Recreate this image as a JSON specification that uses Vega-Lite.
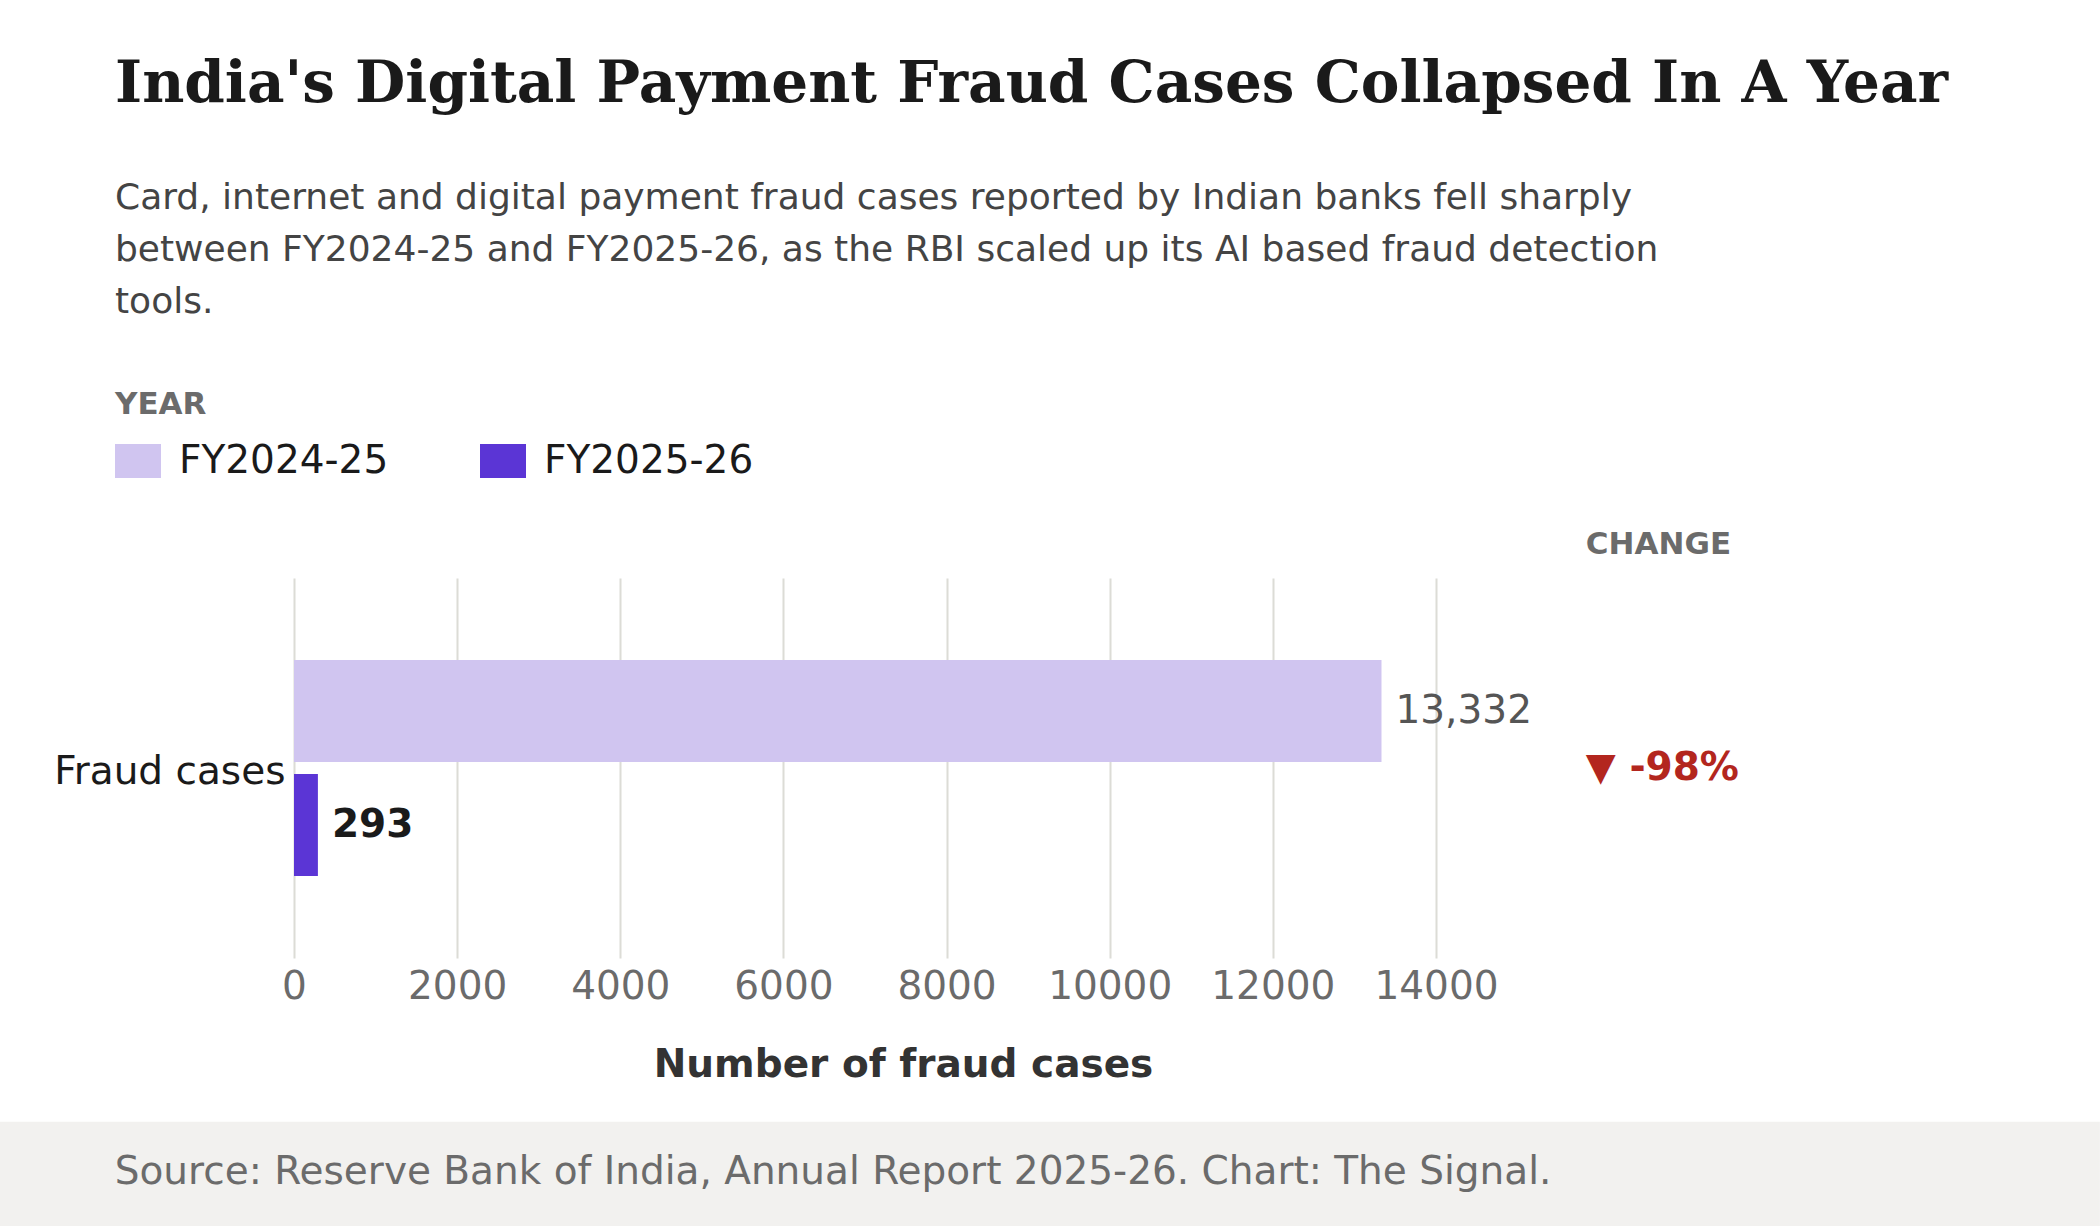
{
  "$schema": "https://vega.github.io/schema/vega-lite/v6.json",
  "width": 1218,
  "height": 380,
  "autosize": {"type": "none"},
  "padding": {"left": 294, "top": 578, "right": 588, "bottom": 268},
  "background": "white",
  "config": {"font": "DejaVu Sans", "view": {"stroke": null}},
  "title": {
    "text": "India's Digital Payment Fraud Cases Collapsed In A Year",
    "subtitle": [
      "Card, internet and digital payment fraud cases reported by Indian banks fell sharply",
      "between FY2024-25 and FY2025-26, as the RBI scaled up its AI based fraud detection",
      "tools."
    ],
    "anchor": "start",
    "frame": "group",
    "dx": -179,
    "offset": 70,
    "font": "DejaVu Serif",
    "fontSize": 58,
    "fontWeight": "bold",
    "color": "#1a1a1a",
    "subtitleFont": "DejaVu Sans",
    "subtitleFontSize": 36,
    "subtitleColor": "#444444",
    "subtitleLineHeight": 52,
    "subtitlePadding": 67
  },
  "layer": [
    {
      "layer": [
        {
          "data": {"name": "cases"},
          "mark": {"type": "bar"},
          "encoding": {
            "y": {"field": "metric", "type": "nominal", "title": null,
              "scale": {"paddingInner": 0, "paddingOuter": 0.3796},
              "axis": {"domain": false, "ticks": false, "labelPadding": 9, "labelFontSize": 39, "labelColor": "#1a1a1a", "labelLimit": 600, "labelOffset": 4}},
            "yOffset": {"field": "year", "type": "nominal",
              "scale": {"domain": ["FY2024-25", "FY2025-26"], "paddingInner": 0.105, "paddingOuter": 0}},
            "x": {"field": "cases", "type": "quantitative", "title": "Number of fraud cases",
              "scale": {"domain": [0, 14932], "nice": false},
              "axis": {
                "values": [0, 2000, 4000, 6000, 8000, 10000, 12000, 14000],
                "format": "d",
                "grid": true, "gridColor": "#dcdcd6", "gridWidth": 2,
                "domain": false, "ticks": false, "tickSize": 0,
                "labelPadding": 9, "labelFontSize": 39, "labelColor": "#6b6b6b",
                "labelFlush": false, "labelOverlap": false,
                "titleFontSize": 39, "titleFontWeight": "bold", "titleColor": "#333333", "titlePadding": 39
              }},
            "color": {"field": "year", "type": "nominal",
              "scale": {"domain": ["FY2024-25", "FY2025-26"], "range": ["#d0c5f0", "#5b35d5"]},
              "legend": {
                "title": "YEAR", "orient": "none", "legendX": -179, "legendY": -188,
                "direction": "horizontal", "padding": 0,
                "titleFontSize": 31, "titleFontWeight": "bold", "titleColor": "#6b6b6b", "titlePadding": 17,
                "labelFontSize": 39, "labelColor": "#1a1a1a", "labelOffset": 18, "labelLimit": 600,
                "symbolType": "M-1,-0.739H1V0.739H-1Z", "symbolSize": 2116, "symbolStrokeWidth": 0, "symbolOpacity": 1,
                "columnPadding": 91
              }}
          }
        },
        {
          "data": {"name": "cases"},
          "transform": [{"filter": "datum.year == 'FY2024-25'"}],
          "mark": {"type": "text", "align": "left", "baseline": "middle", "dx": 14, "fontSize": 39, "color": "#555555"},
          "encoding": {
            "y": {"field": "metric", "type": "nominal", "title": null},
            "yOffset": {"field": "year", "type": "nominal"},
            "x": {"field": "cases", "type": "quantitative", "title": "Number of fraud cases"},
            "text": {"field": "label"}
          }
        },
        {
          "data": {"name": "cases"},
          "transform": [{"filter": "datum.year == 'FY2025-26'"}],
          "mark": {"type": "text", "align": "left", "baseline": "middle", "dx": 14, "fontSize": 39, "fontWeight": "bold", "color": "#1a1a1a"},
          "encoding": {
            "y": {"field": "metric", "type": "nominal", "title": null},
            "yOffset": {"field": "year", "type": "nominal"},
            "x": {"field": "cases", "type": "quantitative", "title": "Number of fraud cases"},
            "text": {"field": "label"}
          }
        },
        {
          "data": {"name": "change"},
          "mark": {"type": "text", "align": "left", "baseline": "alphabetic", "dy": -214, "fontSize": 31, "fontWeight": "bold", "color": "#6b6b6b"},
          "encoding": {
            "y": {"field": "metric", "type": "nominal", "title": null},
            "x": {"field": "pos", "type": "quantitative", "title": "Number of fraud cases"},
            "text": {"field": "head"}
          }
        },
        {
          "data": {"name": "change"},
          "mark": {"type": "text", "align": "left", "baseline": "middle", "fontSize": 39, "fontWeight": "bold", "color": "#b3261e"},
          "encoding": {
            "y": {"field": "metric", "type": "nominal", "title": null},
            "x": {"field": "pos", "type": "quantitative", "title": "Number of fraud cases"},
            "text": {"field": "change"}
          }
        }
      ]
    },
    {
      "data": {"name": "footer"},
      "layer": [
        {
          "mark": {"type": "rect", "color": "#f2f1ef"},
          "encoding": {
            "x": {"field": "x0", "type": "quantitative", "title": "Number of fraud cases"},
            "x2": {"field": "x1"},
            "y": {"field": "y0", "type": "quantitative", "scale": {"domain": [0, 1], "nice": false, "zero": false}, "axis": null},
            "y2": {"field": "y1"}
          }
        },
        {
          "mark": {"type": "text", "align": "left", "baseline": "alphabetic", "fontSize": 39, "color": "#6b6b6b"},
          "encoding": {
            "x": {"field": "tx", "type": "quantitative", "title": "Number of fraud cases"},
            "y": {"field": "ty", "type": "quantitative", "scale": {"domain": [0, 1], "nice": false, "zero": false}, "axis": null},
            "text": {"field": "source"}
          }
        }
      ]
    }
  ],
  "resolve": {"scale": {"y": "independent"}},
  "datasets": {
    "cases": [
      {"metric": "Fraud cases", "year": "FY2024-25", "cases": 13332, "label": "13,332"},
      {"metric": "Fraud cases", "year": "FY2025-26", "cases": 293, "label": "293"}
    ],
    "change": [
      {"metric": "Fraud cases", "pos": 15837, "head": "CHANGE", "change": "▼ -98%"}
    ],
    "footer": [
      {"x0": -3608, "x1": 22139, "y0": -0.4308, "y1": -0.76, "tx": -2198, "ty": -0.5947,
       "source": "Source: Reserve Bank of India, Annual Report 2025-26. Chart: The Signal."}
    ]
  }
}
